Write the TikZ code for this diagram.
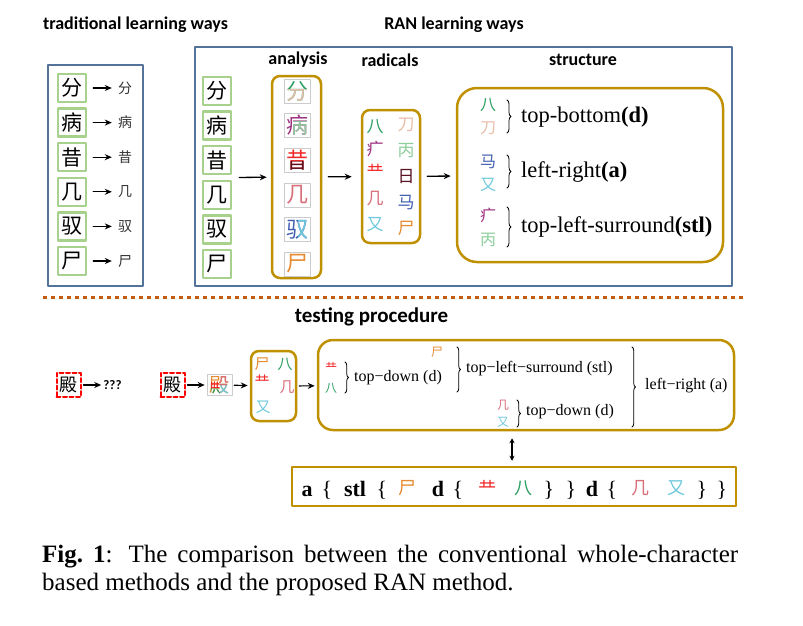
\documentclass[tikz,border=0pt]{standalone}
\usepackage{fontspec}
\setmainfont{Liberation Serif}
\newfontfamily\headfont{Carlito}
\newfontfamily\cjk{Noto Sans CJK SC}
\usetikzlibrary{positioning,calc,arrows.meta,decorations.pathreplacing}

\definecolor{panelblue}{RGB}{84,115,155}
\definecolor{gold}{RGB}{191,144,0}
\definecolor{boxgreen}{RGB}{169,209,142}
\definecolor{sepline}{RGB}{197,90,17}
\definecolor{cBa}{RGB}{46,160,100}
\definecolor{cDao}{RGB}{232,190,170}
\definecolor{cNi}{RGB}{160,50,130}
\definecolor{cBing}{RGB}{140,205,155}
\definecolor{cGong}{RGB}{240,40,40}
\definecolor{cRi}{RGB}{90,20,35}
\definecolor{cJi}{RGB}{215,110,120}
\definecolor{cMa}{RGB}{65,95,175}
\definecolor{cYou}{RGB}{110,200,220}
\definecolor{cShi}{RGB}{230,140,50}

% same glyph again, in another colour, only inside a clip region
\newcommand{\tint}[5]{\begin{scope}[shift={(#1)}]\clip #4;
	\node[inner sep=0pt,text=#3,font=\cjk\fontsize{#5}{#5}\selectfont] (#1-#3) at (0,0) {#2};\end{scope}}

\begin{document}
\begin{tikzpicture}[x=1pt, y=-1pt, line join=round, line cap=round, >={Stealth[length=7pt,width=6pt]},
	head/.style={font=\headfont\bfseries\fontsize{18}{18}\selectfont},
	panel/.style={draw=panelblue, line width=2pt},
	goldbox/.style={draw=gold, line width=2.5pt, rounded corners=#1, inner sep=0pt},
	goldbox/.default=8pt,
	charbox/.style={draw=boxgreen, line width=2.5pt, fill=white, minimum size=28pt, inner sep=0pt, font=\cjk\fontsize{21}{21}\selectfont},
	anachar/.style={draw=gray!40, line width=0.6pt, minimum width=26pt, minimum height=24pt, inner sep=0pt, font=\cjk\fontsize{22}{22}\selectfont},
	radical/.style={inner sep=0pt, font=\cjk\fontsize{#1}{#1}\selectfont},
	qbox/.style={draw=red, line width=2pt, dash pattern=on 4pt off 2.5pt, minimum size=24pt, inner sep=0pt, font=\cjk\fontsize{18}{18}\selectfont},
	arr/.style={->, line width=1.3pt},
	brace/.style={decorate, decoration={brace, amplitude=#1}, line width=0.8pt},
	brace/.default=4pt,
	lab/.style={anchor=west, inner sep=0pt, font=\fontsize{22.5}{24}\selectfont},
	tlab/.style={anchor=west, inner sep=0pt, font=\fontsize{16}{18}\selectfont},
	seqtok/.style={anchor=base, inner sep=0pt, font=\bfseries\fontsize{22}{22}\selectfont}]
	\useasboundingbox (0,0) rectangle (803,625);
	
	% top part
	\node[head] (trad) at (135.5,25) {traditional learning ways};
	\node[head] (ranw) at (454,25) {RAN learning ways};
	\draw[panel] (48,65) rectangle (143,286);
	\draw[panel] (195,47) rectangle (732,286);
	\node[head] (hana) at (298,60) {analysis};
	\node[head] (hrad) at (390,60) {radicals};
	\node[head] (hstr) at (583,60) {structure};
	
	\foreach \c [count=\i from 0] in {分,病,昔,几,驭,尸}{
		\node[charbox] (t\i) at (72,{88+34.6*\i}) {\c};
		\node[radical=14, text=black!80] (s\i) at (125,{88+34.6*\i}) {\c};
		\draw[arr, shorten <=6pt, shorten >=6pt] (t\i) -- (s\i);
		\node[charbox] (r\i) at (217,{91+34.6*\i}) {\c};
	}
	
	\node[goldbox, minimum width=49pt, minimum height=202pt] (ana) at (296.5,177) {};
	\foreach \c/\ca/\cb/\reg [count=\i from 0] in {
		分/cBa/cDao/{(-13,-2) rectangle (13,13)},
		病/cNi/cBing/{(-4,-4) rectangle (13,13)},
		昔/cGong/cRi/{(-13,1.5) rectangle (13,13)},
		几/cJi/cJi/{(0,0) rectangle (0,0)},
		驭/cMa/cYou/{(1,-13) rectangle (13,13)},
		尸/cShi/cShi/{(0,0) rectangle (0,0)}}{
		\node[anachar, text=\ca] (a\i) at (297,{91+34.6*\i}) {\c};
		\tint{a\i}{\c}{\cb}{\reg}{22}
	}
	\path ($(r2.east)!.5!(r3.east)$) coordinate (rout);
	\draw[arr, shorten <=7pt, shorten >=4pt] (rout) -- (ana);
	
	\node[goldbox, minimum width=58pt, minimum height=133pt] (rad) at (391,176.5) {};
	\draw[arr, shorten <=6pt, shorten >=9pt] (ana) -- (rad);
	\foreach \c/\x/\y/\col in {八/375/127/cBa, 疒/375/149/cNi, 龷/375/171/cGong, 几/375/199/cJi, 又/375/225/cYou,
		刀/406/125/cDao, 丙/406/151/cBing, 日/406/177/cRi, 马/406/203/cMa, 尸/406/228/cShi}{
		\node[radical=17, text=\col] (k\c) at (\x,\y) {\c};
	}
	
	\node[goldbox=20pt, minimum width=266pt, minimum height=174pt] (st) at (590,175) {};
	\draw[arr, shorten <=6pt, shorten >=5pt] (rad) -- (st);
	\foreach \c/\y/\col [count=\i] in {八/105/cBa, 刀/128/cDao, 马/162/cMa, 又/185/cYou, 疒/215/cNi, 丙/240/cBing}{
		\node[radical=16, text=\col] (p\i) at (488,\y) {\c};
	}
	\path (507,100) coordinate (b1t) (507,133) coordinate (b1b)
	(507,155) coordinate (b2t) (507,188) coordinate (b2b)
	(507,207) coordinate (b3t) (507,247) coordinate (b3b);
	\foreach \n in {1,2,3}{
		\draw[brace] (b\n t) -- (b\n b);
	}
	\node[lab] (l1) at (521,117) {top-bottom\textbf{(d)}};
	\node[lab] (l2) at (521,172) {left-right\textbf{(a)}};
	\node[lab] (l3) at (521,227) {top-left-surround\textbf{(stl)}};
	
	% separator
	\draw[sepline, line width=3pt, line cap=butt, dash pattern=on 4pt off 4pt] (43,297) -- (745,297);
	\node[head, font=\headfont\bfseries\fontsize{21}{21}\selectfont] (htest) at (371.5,317) {testing procedure};
	
	% testing procedure
	\node[qbox] (q1) at (68.5,385) {殿};
	\node[inner sep=0pt, font=\headfont\bfseries\fontsize{13}{13}\selectfont] (qm) at (112.5,385) {???};
	\node[qbox] (q2) at (172.5,385) {殿};
	\node[draw=gray!40, line width=0.6pt, minimum width=25pt, minimum height=21pt, inner sep=0pt,
	text=cShi, font=\cjk\fontsize{20}{20}\selectfont] (dian) at (219.5,385) {殿};
	\tint{dian}{殿}{cGong}{(-8,-3) rectangle (0,3)}{20}
	\tint{dian}{殿}{cBa}{(-8,3) rectangle (0,11)}{20}
	\tint{dian}{殿}{cJi}{(0.5,-11) rectangle (11,0)}{20}
	\tint{dian}{殿}{cYou}{(0.5,0) rectangle (11,11)}{20}
	
	\node[goldbox, minimum width=45pt, minimum height=70pt] (tb) at (273.5,386) {};
	\foreach \c/\x/\y/\col in {尸/262/364/cShi, 龷/262/381/cGong, 又/263/407/cYou, 八/285/364/cBa, 几/287/387/cJi}{
		\node[radical=15, text=\col] (m\c) at (\x,\y) {\c};
	}
	\node[goldbox=15pt, minimum width=416pt, minimum height=90pt] (ts) at (526,385) {};
	\foreach \a/\b in {q1/qm, q2/dian, dian/tb, tb/ts}{
		\draw[arr, line width=1.2pt, shorten <=2pt, shorten >=2pt] (\a) -- (\b);
	}
	\foreach \c/\x/\y/\col in {龷/331/367/cGong, 八/331/388/cBa, 尸/437/352/cShi, 几/503/405/cJi, 又/503/422/cYou}{
		\node[radical=12, text=\col] (n\c) at (\x,\y) {\c};
	}
	\path (345,362) coordinate (c1t) (345,393) coordinate (c1b)
	(457,347) coordinate (c2t) (457,392) coordinate (c2b)
	(517,400) coordinate (c3t) (517,427) coordinate (c3b)
	(632,347) coordinate (c4t) (632,427) coordinate (c4b);
	\foreach \n in {1,2,3,4}{
		\draw[brace=3.5pt] (c\n t) -- (c\n b);
	}
	\node[tlab] (d1) at (354,378) {top\textminus down (d)};
	\node[tlab] (d2) at (466,369) {top\textminus left\textminus surround (stl)};
	\node[tlab] (d3) at (526,412) {top\textminus down (d)};
	\node[tlab] (d4) at (645,386) {left\textminus right (a)};
	
	% sequence
	\node[draw=gold, line width=2.5pt, minimum width=444pt, minimum height=39pt, inner sep=0pt] (seq) at (514,486.5) {};
	\draw[{Stealth[length=5pt,width=5pt]}-{Stealth[length=5pt,width=5pt]}, line width=1.2pt, shorten <=5pt, shorten >=7pt]
	([xshift=-2pt]seq.north) -- ([xshift=-2pt]seq.north |- ts.south);
	\foreach \x/\t [count=\k] in {307/a, 355/stl, 438/d, 592/d}{
		\node[seqtok] (w\k) at (\x,496) {\t};
	}
	\foreach \x/\t [count=\k] in {327/\textbraceleft, 382/\textbraceleft, 458/\textbraceleft, 549/\textbraceright,
		571/\textbraceright, 612/\textbraceleft, 702/\textbraceright, 722/\textbraceright}{
		\node[seqtok, font=\fontsize{22}{22}\selectfont] (g\k) at (\x,496) {\t};
	}
	\foreach \x/\c/\col [count=\k] in {407/尸/cShi, 487/龷/cGong, 523/八/cBa, 640/几/cJi, 676/又/cYou}{
		\node[radical=18, text=\col] (z\k) at (\x,488) {\c};
	}
	
	% caption
	\node[anchor=north west, inner sep=0pt, text width=696pt, align=justify,
	font=\fontsize{25}{28}\selectfont] (cap) at (42,545)
	{\textbf{Fig.~1}: The comparison between the conventional whole-character based methods and the proposed RAN method.};
\end{tikzpicture}
\end{document}
